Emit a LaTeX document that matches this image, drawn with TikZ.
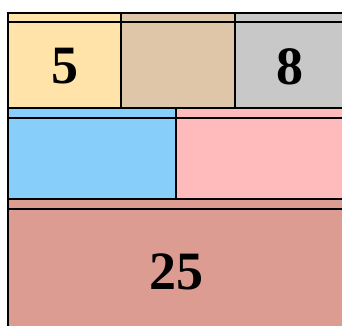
\documentclass[tikz,border=0pt]{standalone}
\usepackage{fontspec}
\setmainfont{Liberation Serif}
\usetikzlibrary{positioning}
\definecolor{tileyellow}{HTML}{FFE3A9}
\definecolor{tiletan}{HTML}{E0C6A8}
\definecolor{tilegray}{HTML}{C8C8C8}
\definecolor{tileblue}{HTML}{87CEFA}
\definecolor{tilepink}{HTML}{FFBBBB}
\definecolor{tilesalmon}{HTML}{DC9C91}

\begin{document}
\begin{tikzpicture}[
      x=1pt,y=1pt,
      node distance=0pt and 0pt,
      tile/.style={draw=black,line width=2pt,fill=#1,inner sep=0pt,
        outer sep=0pt,anchor=north west},
      numtext/.style={font=\fontsize{54}{54}\selectfont\bfseries},
      num/.style={label={[numtext,yshift=-6pt]center:#1}},
      header/.style={draw=black,line width=1.7pt}
    ]
    \useasboundingbox (0,0) rectangle (342,325);
    \clip (0,0) rectangle (342,325);
    % first row
    \node[tile=tileyellow,minimum width=113pt,minimum height=95pt,num=5]
      (five) at (8,312) {};
    \node[tile=tiletan,right=of five,minimum width=114pt,minimum height=95pt]
      (tan) {};
    \node[tile=tilegray,right=of tan,minimum width=109pt,minimum height=95pt,
      num=8] (eight) {};
    % second row
    \node[tile=tileblue,below right=of five.south west,minimum width=167.5pt,
      minimum height=91pt] (blue) {};
    \node[tile=tilepink,right=of blue,minimum width=168.5pt,
      minimum height=91pt] (pink) {};
    % third row
    \node[tile=tilesalmon,below right=of blue.south west,minimum width=336pt,
      minimum height=134pt,num=25] (twentyfive) {};

    \foreach \t/\h in {five/9,tan/9,eight/9,blue/10,pink/10,twentyfive/10}
      \draw[header] ([yshift=-\h pt]\t.north west) -- ([yshift=-\h pt]\t.north east);
  \end{tikzpicture}
\end{document}
